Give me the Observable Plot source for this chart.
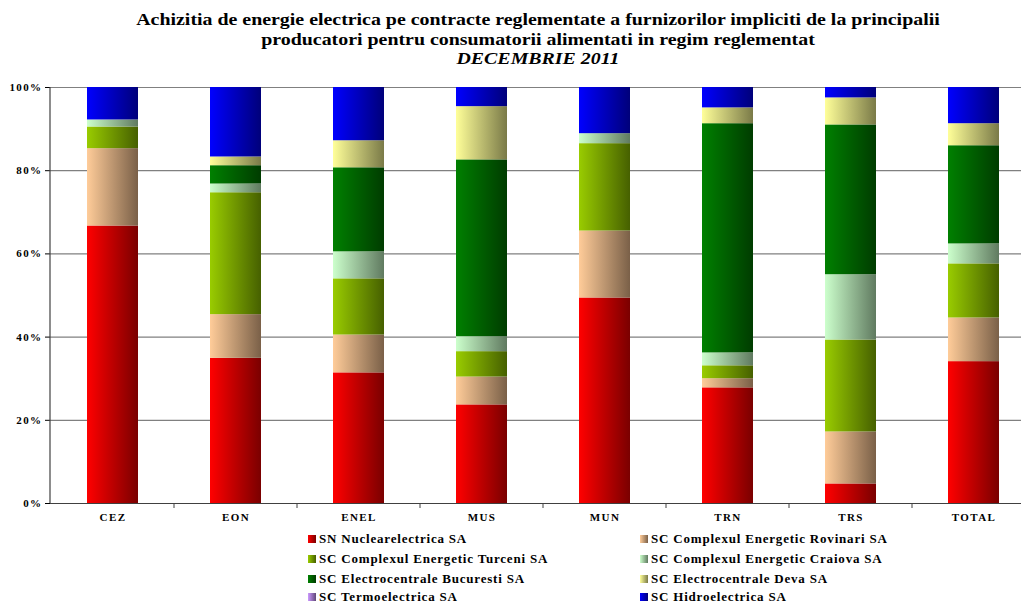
<!DOCTYPE html>
<html>
<head>
<meta charset="utf-8">
<script src="https://cdn.jsdelivr.net/npm/d3@7"></script>
<script src="https://cdn.jsdelivr.net/npm/@observablehq/plot@0.6"></script>
<style>
  html, body { margin: 0; padding: 0; background: #fff; }
  body { width: 1021px; height: 602px; overflow: hidden; position: relative; font-family: "Liberation Serif", "DejaVu Serif", serif; }
  #title { position: absolute; left: 0; top: 10px; width: 1076px; text-align: center; font-weight: bold; font-size: 17px; line-height: 19.5px; color: #000; transform: scaleX(1.17); transform-origin: 538px 0; }
  #title i { font-style: italic; }
  #chart { position: absolute; left: 0; top: 75px; width: 1036px; }
  #chart svg { max-width: none !important; }
  #legend { position: absolute; left: 0; top: 0; width: 1021px; height: 602px; pointer-events: none; }
  .li { position: absolute; font-weight: bold; font-size: 13px; line-height: 13px; letter-spacing: 0.8px; white-space: nowrap; color: #000; }
  .sw { display: inline-block; width: 8px; height: 8px; margin-right: 3px; vertical-align: 0px; }
</style>
</head>
<body>
<div id="title">Achizitia de energie electrica pe contracte reglementate a furnizorilor impliciti de la principalii<br>producatori pentru consumatorii alimentati in regim reglementat<br><i>DECEMBRIE 2011</i></div>
<div id="chart"></div>
<div id="legend"></div>
<script>
const categories = ["CEZ", "EON", "ENEL", "MUS", "MUN", "TRN", "TRS", "TOTAL"];
const seriesNames = [
  "SN Nuclearelectrica SA",
  "SC Complexul Energetic Rovinari SA",
  "SC Complexul Energetic Turceni SA",
  "SC Complexul Energetic Craiova SA",
  "SC Electrocentrale Bucuresti SA",
  "SC Electrocentrale Deva SA",
  "SC Termoelectrica SA",
  "SC Hidroelectrica SA"
];
const nuclearelectrica = [66.7, 34.9, 31.4, 23.7, 49.4, 27.8, 4.7, 34.1];
const rovinari         = [18.6, 10.5,  9.1,  6.7, 16.1,  2.2, 12.5, 10.5];
const turceni          = [ 5.2, 29.3, 13.5,  6.1, 21.0,  3.1, 22.1, 13.0];
const craiova          = [ 1.7,  2.1,  6.5,  3.6,  2.4,  3.1, 15.7,  4.8];
const bucuresti        = [ 0.0,  4.4, 20.2, 42.5,  0.0, 55.1, 36.0, 23.6];
const deva             = [ 0.0,  2.1,  6.5, 12.8,  0.0,  3.8,  6.5,  5.3];
const termoelectrica   = [ 0.0,  0.0,  0.0,  0.0,  0.0,  0.0,  0.0,  0.0];
const hidroelectrica   = [ 7.8, 16.7, 12.8,  4.6, 11.1,  4.9,  2.5,  8.7];
const yTicks = [0, 20, 40, 60, 80, 100];

// gradient colours: light (left) -> dark (right)
const gradLight = ["#ff0000", "#ffcc99", "#99cc00", "#ccffcc", "#008000", "#ffff99", "#cc99ff", "#0000ff"];
const gradDark  = ["#7a0000", "#7a6048", "#466000", "#607a60", "#003c00", "#7a7a48", "#604878", "#00007a"];

const seriesValues = [nuclearelectrica, rovinari, turceni, craiova, bucuresti, deva, termoelectrica, hidroelectrica];
const data = [];
categories.forEach((c, ci) => {
  seriesNames.forEach((s, si) => {
    data.push({category: c, series: s, value: seriesValues[si][ci]});
  });
});

const gradIds = seriesNames.map((s, i) => "grad" + i);

const axisLines = (index, scales, values, dims) => {
  const ns = "http://www.w3.org/2000/svg";
  const g = document.createElementNS(ns, "g");
  const l = document.createElementNS(ns, "line");
  l.setAttribute("x1", dims.marginLeft); l.setAttribute("x2", dims.marginLeft);
  l.setAttribute("y1", scales.y(0)); l.setAttribute("y2", scales.y(100));
  l.setAttribute("stroke", "#404040"); l.setAttribute("stroke-width", 1.2);
  g.appendChild(l);
  // category boundary ticks below the axis
  const bw = scales.x.bandwidth();
  const centers = categories.map(c => scales.x(c) + bw / 2);
  const step = centers[1] - centers[0];
  for (let i = 0; i < categories.length; i++) {
    const bx = centers[i] + step / 2;
    const t = document.createElementNS(ns, "line");
    t.setAttribute("x1", bx); t.setAttribute("x2", bx);
    t.setAttribute("y1", scales.y(0)); t.setAttribute("y2", scales.y(0) + 5);
    t.setAttribute("stroke", "#404040");
    g.appendChild(t);
  }
  return g;
};

const plot = Plot.plot({
  width: 1036,
  height: 453,
  marginLeft: 50,
  marginRight: 0,
  marginTop: 12,
  marginBottom: 25,
  style: {fontFamily: "'Liberation Serif', serif", fontSize: "11px", fontWeight: "bold", color: "#000", background: "transparent", maxWidth: "none"},
  x: {domain: categories, paddingInner: 0.585, paddingOuter: 0.2925, label: null},
  y: {domain: [0, 100], label: null},
  color: {type: "ordinal", domain: seriesNames, range: gradIds.map(id => `url(#${id})`)},
  marks: [
    Plot.gridY(yTicks, {stroke: "#808080", strokeOpacity: 1, strokeWidth: 1.2}),
    Plot.barY(data, Plot.stackY({x: "category", y: "value", fill: "series", order: null})),
    Plot.ruleY([0], {stroke: "#404040", strokeWidth: 1.2}),
    Plot.axisY({ticks: yTicks, tickSize: 5, tickPadding: 3, tickFormat: d => d + "%", label: null, fontSize: 11, fontWeight: "bold"}),
    Plot.axisX({tickSize: 0, tickPadding: 10, label: null, fontSize: 11, fontWeight: "bold"}),
    axisLines
  ]
});

// gradient definitions
const svgEl = plot.tagName.toLowerCase() === "svg" ? plot : plot.querySelector("svg");
svgEl.style.maxWidth = "none";
const svg = d3.select(svgEl);
svg.selectAll("text").style("letter-spacing", "1.4px");
const defs = svg.insert("defs", ":first-child");
gradIds.forEach((id, i) => {
  const g = defs.append("linearGradient").attr("id", id).attr("x1", 0).attr("x2", 1).attr("y1", 0).attr("y2", 0);
  g.append("stop").attr("offset", "0%").attr("stop-color", gradLight[i]);
  g.append("stop").attr("offset", "100%").attr("stop-color", gradDark[i]);
});
document.getElementById("chart").appendChild(plot);

// legend
const legend = document.getElementById("legend");
const legendCols = [308, 640];
const legendRows = [532, 552, 572, 590];
seriesNames.forEach((s, i) => {
  const d = document.createElement("div");
  d.className = "li";
  d.style.left = legendCols[i % 2] + "px";
  d.style.top = legendRows[Math.floor(i / 2)] + "px";
  const sw = document.createElement("span");
  sw.className = "sw";
  sw.style.background = `linear-gradient(to right, ${gradLight[i]}, ${gradDark[i]})`;
  d.appendChild(sw);
  d.appendChild(document.createTextNode(s));
  legend.appendChild(d);
});
</script>
</body>
</html>
